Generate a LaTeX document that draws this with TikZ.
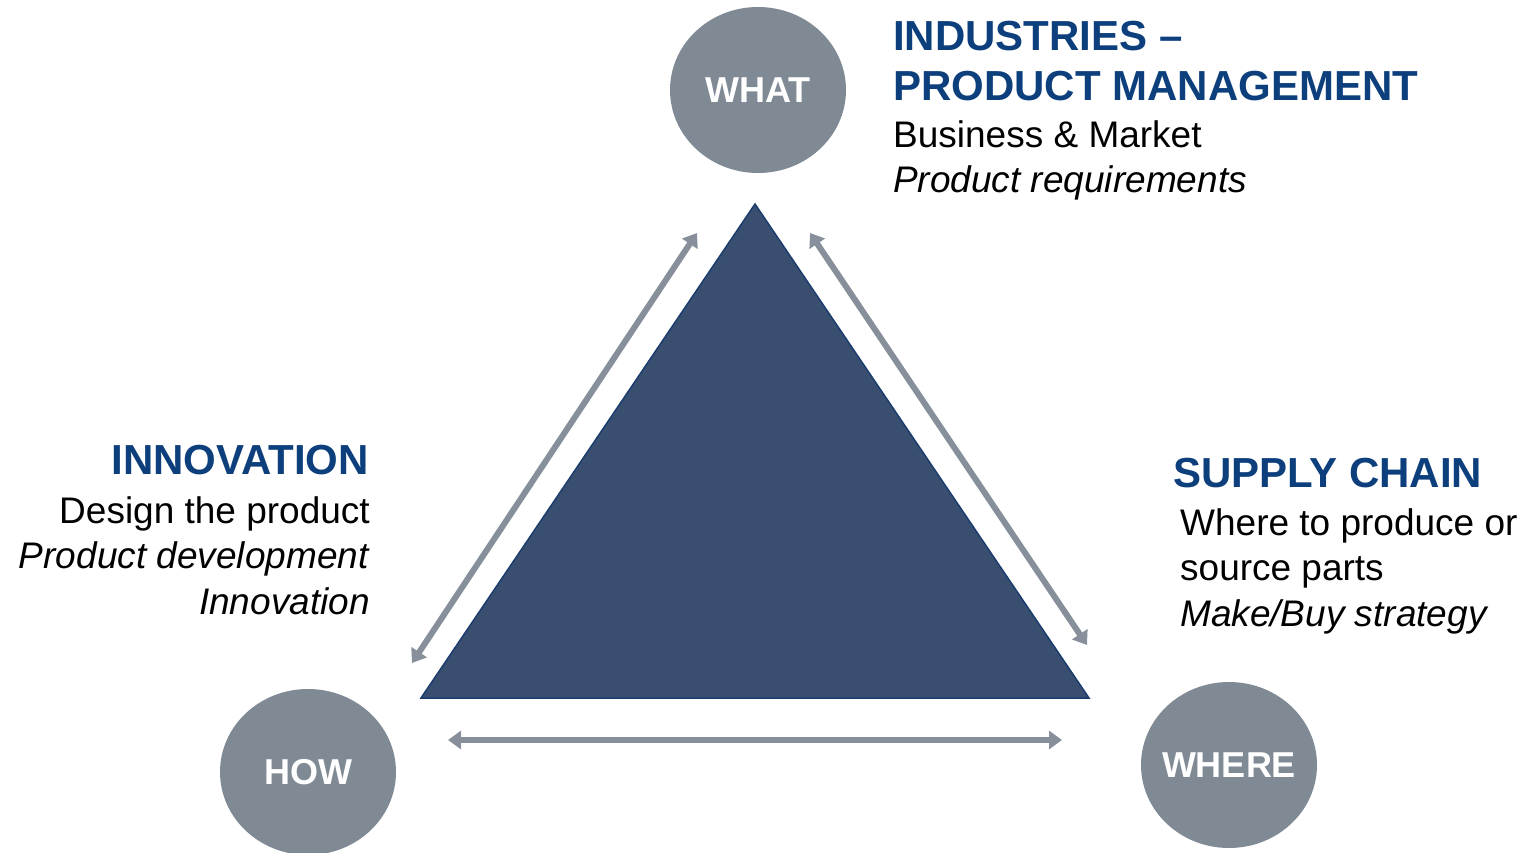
\documentclass[tikz,border=0pt]{standalone}
\usepackage{fontspec}
\setmainfont{Liberation Sans}
\usetikzlibrary{arrows.meta,positioning,shapes.geometric}
\definecolor{dreieckFill}{HTML}{3A4F70}
\definecolor{dreieckRand}{HTML}{1B3D6E}
\definecolor{kreisGrau}{HTML}{808A95}
\definecolor{pfeilGrau}{HTML}{87909A}
\definecolor{titelBlau}{HTML}{0C3F7C}
\tikzset{
  kreis/.style={ellipse, fill=kreisGrau, minimum width=176pt, minimum height=166pt, inner xsep=-12pt, inner ysep=0pt, text=white, font=\fontsize{36}{40}\selectfont\bfseries},
  titel/.style={inner sep=0pt, text=titelBlau, font=\fontsize{42}{50}\selectfont\bfseries},
  textblock/.style={inner sep=0pt, font=\fontsize{37}{45.5}\selectfont},
  pfeil/.style={{Triangle[length=13pt,width=18pt]}-{Triangle[length=13pt,width=18pt]}, line width=6pt, draw=pfeilGrau},
}
\begin{document}
\begin{tikzpicture}[x=1pt,y=-1pt]
\useasboundingbox (0,0) rectangle (1532,853);

% Dreieck
\coordinate (tTop) at (755,204);
\coordinate (tRight) at (1089,698);
\coordinate (tLeft) at (421,698);
\draw[draw=dreieckRand, fill=dreieckFill, line width=1.5pt, line join=miter] (tTop) -- (tRight) -- (tLeft) -- cycle;

% Kreise
\node[kreis] (what) at (758,90) {WHAT};
\node[kreis] (how) at (308,772) {HOW};
\node[kreis] (where) at (1229,765) {WHERE};

% Pfeile
\coordinate (lA) at (697,233);
\coordinate (lB) at (412,663);
\coordinate (rA) at (810,233);
\coordinate (rB) at (1087,645);
\coordinate (bA) at (448,740);
\coordinate (bB) at (1062,740);
\draw[pfeil] (lA) -- (lB);
\draw[pfeil] (rA) -- (rB);
\draw[pfeil] (bA) -- (bB);

% Texte (Anker = Grundlinie der letzten Zeile)
\node[titel, anchor=base west, align=left] (indT) at (893,101) {INDUSTRIES –\\PRODUCT MANAGEMENT};
\node[textblock, anchor=base west, align=left] (indB) at (893,193) {Business \& Market\\\textit{Product requirements}};

\node[titel, anchor=base east] (innT) at (369,474) {INNOVATION};
\node[textblock, anchor=base east, align=right] (innB) at (370,614) {Design the product\\\textit{Product development}\\\textit{Innovation}};

\node[titel, anchor=base west] (supT) at (1173,487) {SUPPLY CHAIN};
\node[textblock, anchor=base west, align=left] (supB) at (1180,626) {Where to produce or\\source parts\\\textit{Make/Buy strategy}};
\end{tikzpicture}
\end{document}
